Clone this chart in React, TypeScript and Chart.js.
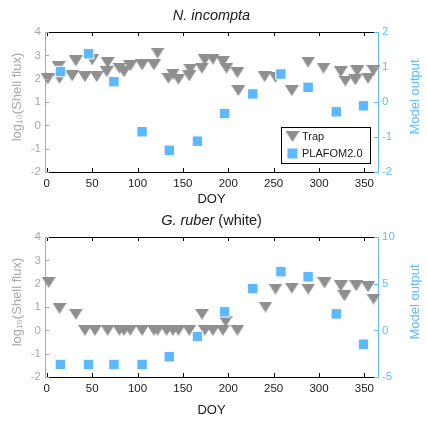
import React, { useEffect, useRef } from 'react';
import { Chart, registerables } from 'chart.js';

Chart.register(...registerables);

const FONT = '"Liberation Sans", Arial, Helvetica, sans-serif';
const GRAY_MARK = '#8f8f8f';
const BLUE_MARK = '#5cb8ff';
const GRAY_TEXT = '#a8a8a8';
const BLUE_TEXT = '#62baff';
const DARK = '#1a1a1a';

// ---- axis ticks ----
const xTicks = [0, 50, 100, 150, 200, 250, 300, 350];
const leftTicks = [-2, -1, 0, 1, 2, 3, 4];
const incRightTicks = [-2, -1, 0, 1, 2];
const rubRightTicks = [-5, 0, 5, 10];

// ---- model (PLAFOM2.0) sample days ----
const modelDoy = [15, 46, 74, 105, 135, 166, 196, 227, 258, 288, 319, 349];

// ---- N. incompta ----
const incTrapDoy = [1, 13, 14, 28, 32, 42, 50, 55, 66, 67, 80, 85, 92, 105, 118, 122, 134, 139, 145, 157, 158, 171, 174, 183, 194, 198, 210, 211, 240, 252, 270, 288, 305, 324, 329, 340, 342, 354, 360];
const incTrapFlux = [1.99, 2.52, 2.02, 2.12, 2.76, 2.09, 2.81, 2.09, 2.3, 2.69, 2.45, 2.3, 2.55, 2.59, 2.59, 3.1, 2.02, 2.2, 1.98, 2.12, 2.41, 2.45, 2.81, 2.84, 2.73, 2.45, 2.26, 1.49, 2.09, 2.06, 1.49, 2.71, 2.45, 2.3, 1.9, 1.95, 2.33, 2.02, 2.35];
const incModel = [0.87, 1.38, 0.58, -0.85, -1.38, -1.12, -0.33, 0.23, 0.8, 0.42, -0.28, -0.11];

// ---- G. ruber (white) ----
const rubTrapDoy = [2, 14, 32, 42, 53, 67, 80, 85, 92, 105, 118, 122, 132, 139, 145, 157, 171, 174, 183, 194, 197, 210, 241, 252, 270, 288, 306, 324, 328, 341, 354, 360];
const rubTrapFlux = [2.05, 0.94, 0.69, 0, 0, 0, 0, 0, 0, 0, 0, 0, 0, 0, 0, 0, 0.69, 0, 0, 0, 0.38, 0, 1.0, 1.77, 1.81, 1.77, 2.03, 1.91, 1.48, 1.91, 1.87, 1.34];
const rubModel = [-3.66, -3.66, -3.66, -3.66, -2.83, -0.66, 1.98, 4.47, 6.28, 5.74, 1.76, -1.49];

type TitlePart = { text: string; italic: boolean };

function makeTriangle(): HTMLCanvasElement {
  const c = document.createElement('canvas');
  c.width = 14;
  c.height = 11;
  const g = c.getContext('2d')!;
  g.fillStyle = GRAY_MARK;
  g.beginPath();
  g.moveTo(0, 0);
  g.lineTo(14, 0);
  g.lineTo(7, 11);
  g.closePath();
  g.fill();
  return c;
}

const decorPlugin = {
  id: 'decor',
  afterDraw(chart: any, _args: any, opts: any) {
    const ctx: CanvasRenderingContext2D = chart.ctx;
    const { left, right, top, bottom } = chart.chartArea;
    ctx.save();
    ctx.lineWidth = 1;
    // top frame
    ctx.strokeStyle = '#000';
    ctx.beginPath();
    ctx.moveTo(left, top + 0.5);
    ctx.lineTo(right, top + 0.5);
    ctx.stroke();
    const TL = 4;
    const xs = chart.scales.x;
    ctx.strokeStyle = '#000';
    xs.ticks.forEach((t: any) => {
      const p = Math.round(xs.getPixelForValue(t.value)) + 0.5;
      ctx.beginPath();
      ctx.moveTo(p, bottom);
      ctx.lineTo(p, bottom - TL);
      ctx.moveTo(p, top);
      ctx.lineTo(p, top + TL);
      ctx.stroke();
    });
    const ys = chart.scales.y;
    ctx.strokeStyle = GRAY_TEXT;
    ys.ticks.forEach((t: any) => {
      const p = Math.round(ys.getPixelForValue(t.value)) + 0.5;
      ctx.beginPath();
      ctx.moveTo(left, p);
      ctx.lineTo(left + TL, p);
      ctx.stroke();
    });
    const y2 = chart.scales.y2;
    ctx.strokeStyle = BLUE_TEXT;
    y2.ticks.forEach((t: any) => {
      const p = Math.round(y2.getPixelForValue(t.value)) + 0.5;
      ctx.beginPath();
      ctx.moveTo(right, p);
      ctx.lineTo(right - TL, p);
      ctx.stroke();
    });
    // y-axis titles (both read bottom-to-top)
    const midY = (top + bottom) / 2 - 5;
    ctx.font = `13px ${FONT}`;
    ctx.textAlign = 'center';
    ctx.textBaseline = 'middle';
    ctx.save();
    ctx.translate(17, midY);
    ctx.rotate(-Math.PI / 2);
    ctx.fillStyle = GRAY_TEXT;
    ctx.fillText('log₁₀(Shell flux)', 0, 0);
    ctx.restore();
    ctx.save();
    ctx.translate(415, midY);
    ctx.rotate(-Math.PI / 2);
    ctx.fillStyle = BLUE_TEXT;
    ctx.fillText('Model output', 0, 0);
    ctx.restore();
    // title
    const parts: TitlePart[] = opts.title || [];
    ctx.fillStyle = DARK;
    ctx.textBaseline = 'middle';
    ctx.textAlign = 'left';
    const fontFor = (p: TitlePart) => `${p.italic ? 'italic ' : ''}14.5px ${FONT}`;
    let total = 0;
    parts.forEach((p) => {
      ctx.font = fontFor(p);
      total += ctx.measureText(p.text).width;
    });
    let tx = (left + right) / 2 - total / 2;
    parts.forEach((p) => {
      ctx.font = fontFor(p);
      ctx.fillText(p.text, tx, opts.titleY);
      tx += ctx.measureText(p.text).width;
    });
    // legend
    if (opts.legend) {
      const L = opts.legend;
      ctx.fillStyle = '#fff';
      ctx.fillRect(L.x, L.y, L.w, L.h);
      ctx.strokeStyle = '#000';
      ctx.strokeRect(L.x + 0.5, L.y + 0.5, L.w, L.h);
      const tri = opts.tri as HTMLCanvasElement;
      ctx.drawImage(tri, L.x + 11.5 - tri.width / 2, L.y + 9.5 - tri.height / 2);
      ctx.fillStyle = BLUE_MARK;
      ctx.fillRect(L.x + 6.5, L.y + 21.5, 10, 10);
      ctx.fillStyle = DARK;
      ctx.font = `11px ${FONT}`;
      ctx.fillText(L.labels[0], L.x + 21, L.y + 9.5);
      ctx.fillText(L.labels[1], L.x + 21, L.y + 27);
    }
    ctx.restore();
  },
};

type PanelProps = {
  trapDoy: number[];
  trapFlux: number[];
  model: number[];
  rightTicks: number[];
  rightMin: number;
  rightMax: number;
  title: TitlePart[];
  padTop: number;
  xHeight: number;
  legend: boolean;
};

function Panel(props: PanelProps) {
  const ref = useRef<HTMLCanvasElement>(null);
  useEffect(() => {
    const tri = makeTriangle();
    const chart = new Chart(ref.current!, {
      type: 'scatter',
      data: {
        datasets: [
          {
            label: 'Trap',
            data: props.trapDoy.map((d, i) => ({ x: d, y: props.trapFlux[i] })),
            yAxisID: 'y',
            pointStyle: tri as any,
            pointRadius: 7,
            backgroundColor: GRAY_MARK,
            borderWidth: 0,
            order: 1,
            clip: false as any,
          },
          {
            label: 'PLAFOM2.0',
            data: modelDoy.map((d, i) => ({ x: d, y: props.model[i] })),
            yAxisID: 'y2',
            pointStyle: 'rect',
            pointRadius: 7.4,
            backgroundColor: BLUE_MARK,
            borderColor: '#ffffff',
            borderWidth: 1,
            order: 0,
            clip: false as any,
          },
        ],
      },
      options: {
        animation: false,
        responsive: false,
        events: [],
        layout: { padding: { top: props.padTop, left: 0, right: 0, bottom: 0 }, autoPadding: false } as any,
        plugins: {
          legend: { display: false },
          tooltip: { enabled: false },
          decor: {
            title: props.title,
            titleY: props.padTop - 16,
            tri,
            legend: props.legend
              ? { x: 281, y: 127, w: 89, h: 36, labels: ['Trap', 'PLAFOM2.0'] }
              : null,
          },
        } as any,
        scales: {
          x: {
            type: 'linear',
            position: 'bottom',
            min: -2,
            max: 365,
            afterBuildTicks: (s: any) => {
              s.ticks = xTicks.map((v) => ({ value: v }));
            },
            afterFit: (s: any) => {
              s.height = props.xHeight;
            },
            grid: { display: false, drawTicks: false },
            border: { color: '#000', width: 1 },
            ticks: {
              color: DARK,
              font: { family: FONT, size: 11.5 },
              padding: 5,
              maxRotation: 0,
              autoSkip: false,
            },
            title: {
              display: true,
              text: 'DOY',
              color: DARK,
              font: { family: FONT, size: 13 },
              padding: { top: 0, bottom: 4 },
            },
          },
          y: {
            type: 'linear',
            position: 'left',
            min: -2,
            max: 4,
            afterBuildTicks: (s: any) => {
              s.ticks = leftTicks.map((v) => ({ value: v }));
            },
            afterFit: (s: any) => {
              s.width = 45;
            },
            grid: { display: false, drawTicks: false },
            border: { color: GRAY_TEXT, width: 1 },
            ticks: {
              color: GRAY_TEXT,
              font: { family: FONT, size: 11.5 },
              padding: 4,
            },
          },
          y2: {
            type: 'linear',
            position: 'right',
            min: props.rightMin,
            max: props.rightMax,
            afterBuildTicks: (s: any) => {
              s.ticks = props.rightTicks.map((v) => ({ value: v }));
            },
            afterFit: (s: any) => {
              s.width = 49;
            },
            grid: { display: false, drawTicks: false },
            border: { color: BLUE_TEXT, width: 1 },
            ticks: {
              color: BLUE_TEXT,
              font: { family: FONT, size: 11.5 },
              padding: 4,
            },
          },
        },
      },
      plugins: [decorPlugin as any],
    });
    return () => chart.destroy();
  }, []);
  return (
    <canvas ref={ref} width={427} height={211} style={{ display: 'block', width: 427, height: 211 }} />
  );
}

export default function App() {
  return (
    <div style={{ position: 'absolute', left: 0, top: 0, width: 427, height: 422, background: '#fff' }}>
      <Panel
        trapDoy={incTrapDoy}
        trapFlux={incTrapFlux}
        model={incModel}
        rightTicks={incRightTicks}
        rightMin={-2}
        rightMax={2}
        title={[{ text: 'N. incompta', italic: true }]}
        padTop={32}
        xHeight={39}
        legend={true}
      />
      <Panel
        trapDoy={rubTrapDoy}
        trapFlux={rubTrapFlux}
        model={rubModel}
        rightTicks={rubRightTicks}
        rightMin={-5}
        rightMax={10}
        title={[
          { text: 'G. ruber', italic: true },
          { text: ' (white)', italic: false },
        ]}
        padTop={26}
        xHeight={45}
        legend={false}
      />
    </div>
  );
}
